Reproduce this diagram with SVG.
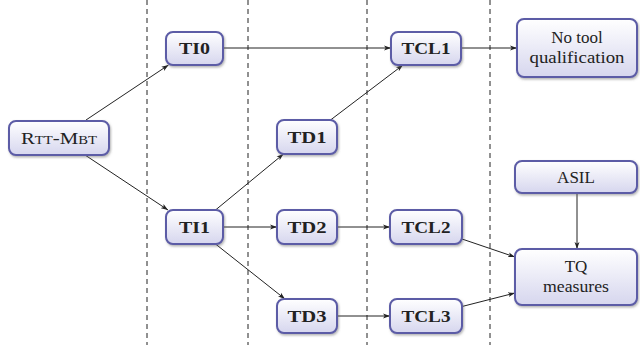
<svg xmlns="http://www.w3.org/2000/svg" width="640" height="345" viewBox="0 0 640 345">
<defs>
<linearGradient id="g" x1="0" y1="0" x2="0" y2="1">
<stop offset="0" stop-color="#ffffff"/>
<stop offset="1" stop-color="#d6d6ee"/>
</linearGradient>
<marker id="a" viewBox="0 0 10 10" refX="10" refY="5" markerWidth="7" markerHeight="7" markerUnits="userSpaceOnUse" orient="auto">
<path d="M0,1.5 L10,5 L0,8.5 L2.5,5 Z" fill="#222"/>
</marker>
<filter id="sh" x="-10%" y="-10%" width="130%" height="140%">
<feDropShadow dx="1" dy="1.5" stdDeviation="0.8" flood-color="#666" flood-opacity="0.5"/>
</filter>
</defs>
<style>
.n rect{fill:url(#g);stroke:#5b5ba6;stroke-width:2;filter:url(#sh)}
text{font-family:"Liberation Serif","Times New Roman",Tinos,"Noto Serif","DejaVu Serif",FreeSerif,serif;font-size:17px;fill:#222;text-anchor:middle}
.b{font-weight:bold}
.sc{font-variant:small-caps}
.e line{stroke:#222;stroke-width:1;marker-end:url(#a)}
.d line{stroke:#222;stroke-width:1;stroke-dasharray:5,4}
</style>
<rect width="640" height="345" fill="#fff"/>
<g class="d" id="dividers">
<line x1="147" y1="0" x2="147" y2="345"/>
<line x1="248" y1="0" x2="248" y2="345"/>
<line x1="367" y1="0" x2="367" y2="345"/>
<line x1="490" y1="0" x2="490" y2="345"/>
</g>
<g class="e" id="connectors">
<line x1="86" y1="120" x2="168.5" y2="65"/>
<line x1="85" y1="155" x2="168" y2="210"/>
<line x1="223" y1="48" x2="391" y2="48"/>
<line x1="461" y1="48" x2="517" y2="48"/>
<line x1="215.5" y1="210" x2="283.5" y2="154"/>
<line x1="223" y1="227" x2="277" y2="227"/>
<line x1="215.5" y1="244" x2="285" y2="299"/>
<line x1="330.5" y1="120" x2="403" y2="65"/>
<line x1="337" y1="227" x2="390" y2="227"/>
<line x1="337" y1="316" x2="390" y2="316"/>
<line x1="462" y1="239" x2="515" y2="257"/>
<line x1="462" y1="306.5" x2="515" y2="293"/>
<line x1="577" y1="193" x2="577" y2="249"/>
</g>
<g class="n" id="rttmbt"><rect x="9" y="121" width="100" height="34" rx="7"/><text class="sc" x="59" y="144" textLength="76" lengthAdjust="spacingAndGlyphs">Rtt-Mbt</text></g>
<g class="n" id="ti0"><rect x="166" y="32" width="57" height="33" rx="7"/><text class="b" x="194.5" y="54" textLength="31" lengthAdjust="spacingAndGlyphs">TI0</text></g>
<g class="n" id="ti1"><rect x="166" y="210" width="57" height="34" rx="7"/><text class="b" x="194.5" y="233" textLength="31" lengthAdjust="spacingAndGlyphs">TI1</text></g>
<g class="n" id="td1"><rect x="277" y="120" width="60" height="34" rx="7"/><text class="b" x="307" y="143" textLength="39" lengthAdjust="spacingAndGlyphs">TD1</text></g>
<g class="n" id="td2"><rect x="277" y="210" width="60" height="34" rx="7"/><text class="b" x="307" y="233" textLength="39" lengthAdjust="spacingAndGlyphs">TD2</text></g>
<g class="n" id="td3"><rect x="277" y="299" width="60" height="34" rx="7"/><text class="b" x="307" y="322" textLength="39" lengthAdjust="spacingAndGlyphs">TD3</text></g>
<g class="n" id="tcl1"><rect x="391" y="32" width="70" height="33" rx="7"/><text class="b" x="426" y="54" textLength="49" lengthAdjust="spacingAndGlyphs">TCL1</text></g>
<g class="n" id="tcl2"><rect x="390" y="210" width="72" height="34" rx="7"/><text class="b" x="426" y="233" textLength="49" lengthAdjust="spacingAndGlyphs">TCL2</text></g>
<g class="n" id="tcl3"><rect x="390" y="299" width="72" height="34" rx="7"/><text class="b" x="426" y="322" textLength="49" lengthAdjust="spacingAndGlyphs">TCL3</text></g>
<g class="n" id="notool"><rect x="517" y="19" width="120" height="58" rx="7"/><text x="577" y="43">No tool</text><text x="577" y="63" textLength="95" lengthAdjust="spacingAndGlyphs">qualification</text></g>
<g class="n" id="asil"><rect x="515" y="161" width="122" height="32" rx="7"/><text x="576" y="183">ASIL</text></g>
<g class="n" id="tq"><rect x="515" y="249" width="122" height="56" rx="7"/><text x="576" y="272">TQ</text><text x="576" y="292" textLength="66" lengthAdjust="spacingAndGlyphs">measures</text></g>
</svg>
